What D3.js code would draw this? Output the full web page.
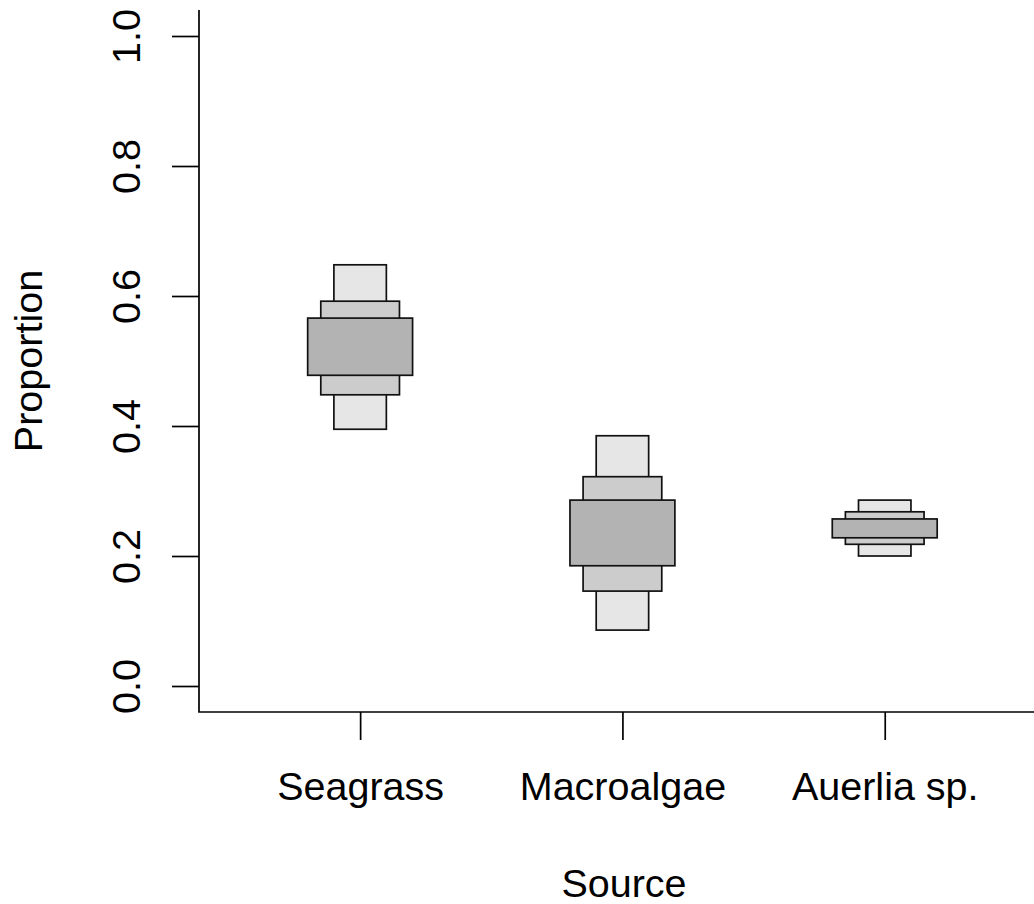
<!DOCTYPE html>
<html>
<head>
<meta charset="utf-8">
<script src="https://cdn.jsdelivr.net/npm/d3@7"></script>
<style>
  html, body { margin: 0; padding: 0; background: #fff; }
  svg { display: block; }
  text { font-family: "Liberation Sans", Arial, sans-serif; fill: #000; }
</style>
</head>
<body>
<svg id="chart" width="1034" height="904"></svg>
<script>
// Sources and their credible intervals of dietary proportion
const sources = ["Seagrass", "Macroalgae", "Auerlia sp."];
const lo95 = [0.395, 0.086, 0.200];
const hi95 = [0.648, 0.385, 0.286];
const lo75 = [0.448, 0.146, 0.218];
const hi75 = [0.592, 0.322, 0.268];
const lo50 = [0.478, 0.185, 0.228];
const hi50 = [0.566, 0.286, 0.257];
const yTicks = [0, 0.2, 0.4, 0.6, 0.8, 1.0];

// Interval bands drawn outermost first; inner bands are wider and darker
const bands = [
  { lo: lo95, hi: hi95, half: 0.1,  fill: "#e6e6e6" },
  { lo: lo75, hi: hi75, half: 0.15, fill: "#cccccc" },
  { lo: lo50, hi: hi50, half: 0.2,  fill: "#b3b3b3" }
];

const svg = d3.select("#chart");
const plotLeft = 199, plotBottom = 712, plotTop = 10;
const fontSize = 39.5;

const x = d3.scaleLinear().domain([0.38, 3.62]).range([197.5, 197.5 + 3.24 * 262.3]);
const y = d3.scaleLinear().domain([-0.04, 1.04]).range([plotBottom, plotTop]);

// Boxes
bands.forEach(b => {
  svg.append("g").selectAll("rect")
    .data(sources.map((s, i) => ({ i, lo: b.lo[i], hi: b.hi[i] })))
    .join("rect")
    .attr("x", d => x(d.i + 1 - b.half))
    .attr("width", d => x(d.i + 1 + b.half) - x(d.i + 1 - b.half))
    .attr("y", d => y(d.hi))
    .attr("height", d => y(d.lo) - y(d.hi))
    .attr("fill", b.fill)
    .attr("stroke", "#111")
    .attr("stroke-width", 1.7);
});

// L-shaped frame
svg.append("path")
  .attr("d", `M${plotLeft},${plotTop}V${plotBottom}H1034`)
  .attr("fill", "none")
  .attr("stroke", "#000")
  .attr("stroke-width", 1.7);

// Y axis
const yAxis = svg.append("g")
  .attr("transform", `translate(${plotLeft},0)`)
  .call(d3.axisLeft(y).tickValues(yTicks).tickSize(27).tickFormat(d3.format(".1f")));
yAxis.select(".domain").remove();
yAxis.selectAll("line").attr("stroke", "#000").attr("stroke-width", 1.7);
yAxis.selectAll("text")
  .attr("x", null).attr("dy", null)
  .attr("text-anchor", "middle")
  .attr("font-size", fontSize)
  .attr("transform", "translate(-59,0) rotate(-90)");

// X axis
const xAxis = svg.append("g")
  .attr("transform", `translate(0,${plotBottom})`)
  .call(d3.axisBottom(x).tickValues([1, 2, 3]).tickSize(28).tickFormat(d => sources[d - 1]));
xAxis.select(".domain").remove();
xAxis.selectAll("line").attr("stroke", "#000").attr("stroke-width", 1.7);
xAxis.selectAll("text")
  .attr("y", 88).attr("dy", null)
  .attr("font-size", fontSize);

// Axis titles
svg.append("text")
  .attr("x", 624)
  .attr("y", 897)
  .attr("text-anchor", "middle")
  .attr("font-size", fontSize)
  .text("Source");

svg.append("text")
  .attr("transform", `translate(42,${(plotTop + plotBottom) / 2}) rotate(-90)`)
  .attr("text-anchor", "middle")
  .attr("font-size", fontSize)
  .text("Proportion");
</script>
</body>
</html>
